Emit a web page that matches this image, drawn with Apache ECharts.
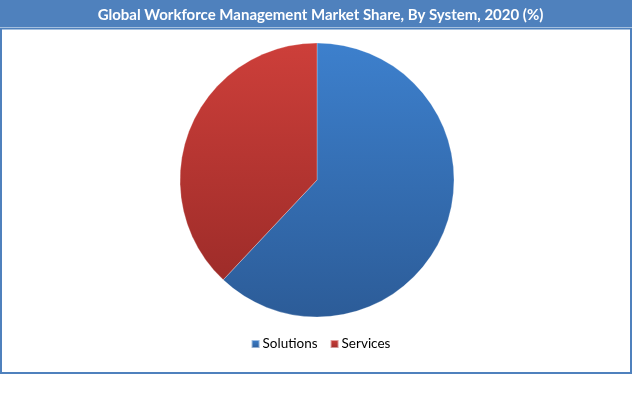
<!DOCTYPE html>
<html><head><meta charset="utf-8">
<script src="https://cdn.jsdelivr.net/npm/echarts@6/dist/echarts.min.js"></script>
<style>html,body{margin:0;padding:0;background:#fff}#c{width:641px;height:411px}</style>
</head><body><div id="c"></div>
<script>
const titleText = 'Global Workforce Management Market Share, By System, 2020 (%)';
const categories = ['Solutions', 'Services'];
const values = [62, 38];
const colorsTop = ['#3d80cd', '#cd3f3a'];
const colorsBottom = ['#2c5c98', '#9e2c29'];

const chart = echarts.init(document.getElementById('c'), null, {renderer: 'canvas'});
const grad = (i) => new echarts.graphic.LinearGradient(0, 0, 0, 1, [
  {offset: 0, color: colorsTop[i]}, {offset: 1, color: colorsBottom[i]}
]);
chart.setOption({
  animation: false,
  graphic: [
    {type: 'rect', shape: {x: 0, y: 0, width: 632, height: 27}, style: {fill: '#4f81bd'}, z: 0},
    {type: 'rect', shape: {x: 1, y: 28.5, width: 630, height: 344.5}, style: {fill: 'none', stroke: '#4f81bd', lineWidth: 2}, z: 0}
  ],
  title: {
    text: titleText, left: 'center', top: 3,
    textStyle: {color: '#ffffff', fontFamily: 'Lato', fontWeight: 'bold', fontSize: 15}
  },
  legend: {
    data: categories, left: 'center', top: 332, icon: 'rect', itemWidth: 8, itemHeight: 8, itemGap: 12,
    textStyle: {fontFamily: 'Lato', fontSize: 13.5, color: '#000', padding: [0,0,0,-2]}
  },
  series: [{
    type: 'pie', center: [317, 180], radius: 137, startAngle: 90, clockwise: true,
    label: {show: false}, labelLine: {show: false}, emphasis: {disabled: true},
    itemStyle: {borderColor: 'rgba(255,255,255,0.5)', borderWidth: 0.5},
    data: categories.map((n, i) => ({name: n, value: values[i], itemStyle: {color: grad(i)}}))
  }]
});
</script></body></html>
